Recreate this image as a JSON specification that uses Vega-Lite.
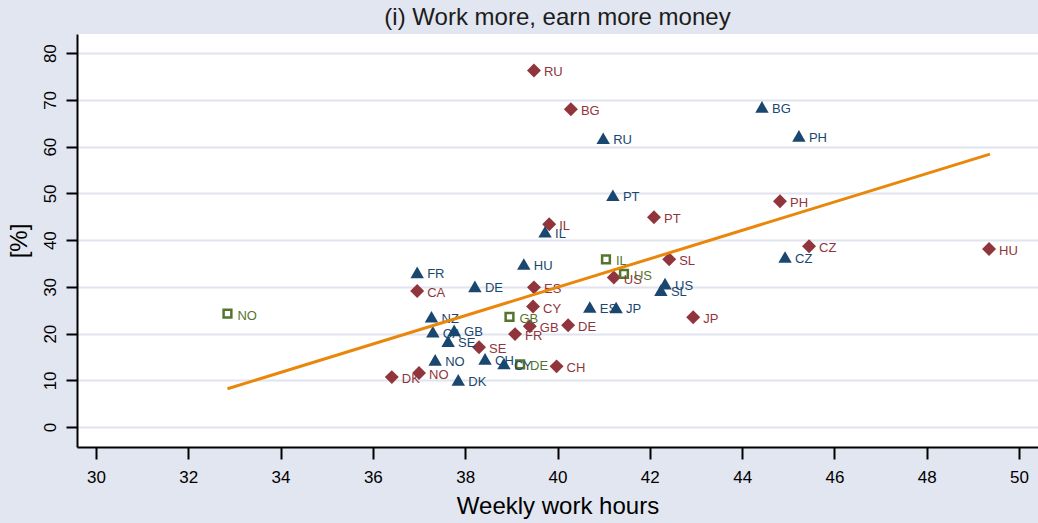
{
  "$schema": "https://vega.github.io/schema/vega-lite/v6.json",
  "width": 961,
  "height": 413,
  "autosize": {"type": "none"},
  "padding": {"left": 77, "top": 34, "right": 0, "bottom": 76},
  "background": "#e2e6f0",
  "view": {"fill": "white", "stroke": null},
  "title": {
    "text": "(i) Work more, earn more money",
    "font": "Liberation Sans",
    "fontSize": 24,
    "fontWeight": "normal",
    "color": "#1c1c1c",
    "anchor": "middle",
    "offset": 4
  },
  "config": {
    "font": "Liberation Sans"
  },
  "datasets": {
    "pts": [
      {"cc": "RU", "hours": 39.49, "pct": 76.3, "series": "s2"},
      {"cc": "BG", "hours": 40.29, "pct": 68.0, "series": "s2"},
      {"cc": "PH", "hours": 44.82, "pct": 48.3, "series": "s2"},
      {"cc": "PT", "hours": 42.09, "pct": 44.9, "series": "s2"},
      {"cc": "IL", "hours": 39.82, "pct": 43.4, "series": "s2"},
      {"cc": "CZ", "hours": 45.45, "pct": 38.7, "series": "s2"},
      {"cc": "HU", "hours": 49.35, "pct": 38.1, "series": "s2"},
      {"cc": "SL", "hours": 42.42, "pct": 35.9, "series": "s2"},
      {"cc": "US", "hours": 41.22, "pct": 32.0, "series": "s2"},
      {"cc": "ES", "hours": 39.49, "pct": 29.9, "series": "s2"},
      {"cc": "CA", "hours": 36.96, "pct": 29.1, "series": "s2"},
      {"cc": "CY", "hours": 39.47, "pct": 25.8, "series": "s2"},
      {"cc": "JP", "hours": 42.94, "pct": 23.5, "series": "s2"},
      {"cc": "GB", "hours": 39.4, "pct": 21.6, "series": "s2"},
      {"cc": "DE", "hours": 40.23, "pct": 21.8, "series": "s2"},
      {"cc": "FR", "hours": 39.08, "pct": 19.9, "series": "s2"},
      {"cc": "SE", "hours": 38.3, "pct": 17.1, "series": "s2"},
      {"cc": "CH", "hours": 39.98, "pct": 13.0, "series": "s2"},
      {"cc": "NO", "hours": 37.0, "pct": 11.6, "series": "s2"},
      {"cc": "DK", "hours": 36.41, "pct": 10.7, "series": "s2"},
      {"cc": "BG", "hours": 44.43, "pct": 68.5, "series": "s1"},
      {"cc": "PH", "hours": 45.23, "pct": 62.3, "series": "s1"},
      {"cc": "RU", "hours": 40.99, "pct": 61.8, "series": "s1"},
      {"cc": "PT", "hours": 41.2, "pct": 49.6, "series": "s1"},
      {"cc": "IL", "hours": 39.73, "pct": 41.8, "series": "s1"},
      {"cc": "HU", "hours": 39.27, "pct": 34.9, "series": "s1"},
      {"cc": "FR", "hours": 36.96, "pct": 33.1, "series": "s1"},
      {"cc": "DE", "hours": 38.21, "pct": 30.1, "series": "s1"},
      {"cc": "CZ", "hours": 44.93, "pct": 36.4, "series": "s1"},
      {"cc": "US", "hours": 42.33, "pct": 30.7, "series": "s1"},
      {"cc": "SL", "hours": 42.24, "pct": 29.3, "series": "s1"},
      {"cc": "ES", "hours": 40.7, "pct": 25.7, "series": "s1"},
      {"cc": "JP", "hours": 41.27, "pct": 25.6, "series": "s1"},
      {"cc": "NZ", "hours": 37.27, "pct": 23.6, "series": "s1"},
      {"cc": "GB", "hours": 37.76, "pct": 20.7, "series": "s1"},
      {"cc": "CA", "hours": 37.3, "pct": 20.4, "series": "s1"},
      {"cc": "SE", "hours": 37.63, "pct": 18.4, "series": "s1"},
      {"cc": "NO", "hours": 37.35, "pct": 14.4, "series": "s1"},
      {"cc": "CH", "hours": 38.43, "pct": 14.6, "series": "s1"},
      {"cc": "CY", "hours": 38.84, "pct": 13.6, "series": "s1"},
      {"cc": "DK", "hours": 37.85, "pct": 10.1, "series": "s1"},
      {"cc": "IL", "hours": 41.05, "pct": 35.9, "series": "s3"},
      {"cc": "US", "hours": 41.44, "pct": 32.8, "series": "s3"},
      {"cc": "GB", "hours": 38.96, "pct": 23.6, "series": "s3"},
      {"cc": "DE", "hours": 39.19, "pct": 13.4, "series": "s3"},
      {"cc": "NO", "hours": 32.85, "pct": 24.3, "series": "s3"}
    ],
    "fit": [
      {"hours": 32.85, "pct": 8.2},
      {"hours": 49.37, "pct": 58.4}
    ]
  },
  "layer": [
    {
      "data": {"name": "pts"},
      "transform": [{"filter": "datum.series !== 's3'"}],
      "mark": {"type": "point", "filled": true, "opacity": 1, "strokeWidth": 0},
      "encoding": {
        "x": {
          "field": "hours", "type": "quantitative",
          "scale": {"domain": [29.59, 50.41], "nice": false, "zero": false},
          "axis": {
            "title": "Weekly work hours",
            "values": [30, 32, 34, 36, 38, 40, 42, 44, 46, 48, 50],
            "grid": false,
            "domainColor": "#000000", "domainWidth": 2,
            "tickColor": "#000000", "tickWidth": 2, "tickSize": 12,
            "labelFont": "Liberation Sans", "labelFontSize": 17, "labelColor": "#000000", "labelPadding": 10,
            "titleFont": "Liberation Sans", "titleFontSize": 24, "titleFontWeight": "normal", "titleColor": "#000000", "titlePadding": 9
          }
        },
        "y": {
          "field": "pct", "type": "quantitative",
          "scale": {"domain": [-4.25, 84.1], "nice": false, "zero": false},
          "axis": {
            "title": "[%]",
            "values": [0, 10, 20, 30, 40, 50, 60, 70, 80],
            "grid": true, "gridColor": "#e0e4ef", "gridWidth": 2,
            "domainColor": "#000000", "domainWidth": 2,
            "tickColor": "#000000", "tickWidth": 2, "tickSize": 11,
            "labelAngle": -90, "labelAlign": "center", "labelBaseline": "bottom",
            "labelFont": "Liberation Sans", "labelFontSize": 17, "labelColor": "#000000", "labelPadding": 7,
            "titleFont": "Liberation Sans", "titleFontSize": 24, "titleFontWeight": "normal", "titleColor": "#000000", "titlePadding": 10
          }
        },
        "shape": {
          "field": "series", "type": "nominal",
          "scale": {"domain": ["s1", "s2", "s3"], "range": ["triangle-up", "diamond", "square"]},
          "legend": null
        },
        "color": {
          "field": "series", "type": "nominal",
          "scale": {"domain": ["s1", "s2", "s3"], "range": ["#1a476f", "#90353b", "#55752f"]},
          "legend": null
        },
        "size": {
          "field": "series", "type": "nominal",
          "scale": {"domain": ["s1", "s2", "s3"], "range": [180, 210, 60]},
          "legend": null
        }
      }
    },
    {
      "data": {"name": "pts"},
      "transform": [{"filter": "datum.series === 's3'"}],
      "mark": {"type": "point", "filled": false, "shape": "square", "size": 60, "strokeWidth": 2.5, "opacity": 1, "color": "#55752f"},
      "encoding": {
        "x": {"field": "hours", "type": "quantitative"},
        "y": {"field": "pct", "type": "quantitative"}
      }
    },
    {
      "data": {"name": "pts"},
      "mark": {"type": "text", "align": "left", "baseline": "middle", "dx": 10, "dy": 2, "fontSize": 13, "font": "Liberation Sans"},
      "encoding": {
        "x": {"field": "hours", "type": "quantitative"},
        "y": {"field": "pct", "type": "quantitative"},
        "text": {"field": "cc", "type": "nominal"},
        "color": {"field": "series", "type": "nominal", "legend": null}
      }
    },
    {
      "data": {"name": "fit"},
      "mark": {"type": "line", "color": "#e8870a", "strokeWidth": 3},
      "encoding": {
        "x": {"field": "hours", "type": "quantitative"},
        "y": {"field": "pct", "type": "quantitative"}
      }
    }
  ]
}
